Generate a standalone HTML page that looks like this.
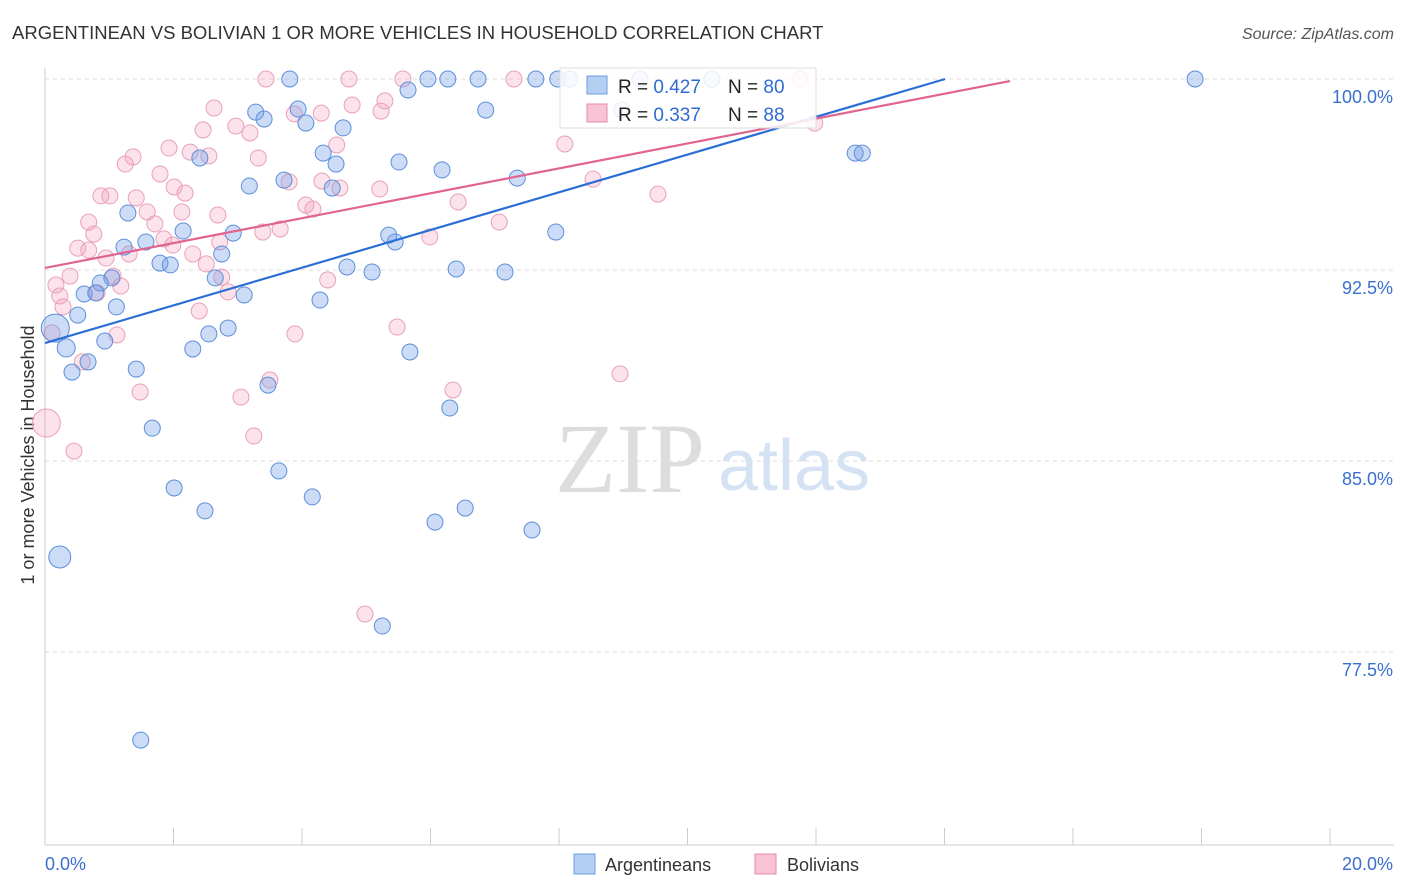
<!DOCTYPE html>
<html><head><meta charset="utf-8"><style>
body{margin:0;background:#fff;font-family:"Liberation Sans",sans-serif;}
svg{display:block}
</style></head><body>
<svg id="c" width="1406" height="892">
<text x="12" y="39" font-size="18.5" fill="#333">ARGENTINEAN VS BOLIVIAN 1 OR MORE VEHICLES IN HOUSEHOLD CORRELATION CHART</text>
<text x="1394" y="39" font-size="16" fill="#555" font-style="italic" text-anchor="end">Source: ZipAtlas.com</text>
<text x="555" y="492" font-size="100" fill="#ddd" font-family="Liberation Serif,serif">ZIP</text>
<text x="718" y="490" font-size="72" fill="#d4e2f4">atlas</text>
<text transform="translate(34,455) rotate(-90)" font-size="18" fill="#333" text-anchor="middle">1 or more Vehicles in Household</text>
<g id="grid"></g><g id="marks"></g><g id="lines"></g>
<g>
<rect x="560" y="68" width="256" height="60" fill="#fff" fill-opacity="0.85" stroke="#ddd"/>
<rect x="587" y="76" width="20" height="18" fill="#b5cff3" stroke="#6b9be0"/>
<rect x="587" y="104" width="20" height="18" fill="#f8c3d3" stroke="#e88aaa"/>
<text x="618" y="93" font-size="19" fill="#222">R = <tspan fill="#2f6bd1">0.427</tspan><tspan x="728">N = </tspan><tspan fill="#2f6bd1">80</tspan></text>
<text x="618" y="121" font-size="19" fill="#222">R = <tspan fill="#2f6bd1">0.337</tspan><tspan x="728">N = </tspan><tspan fill="#2f6bd1">88</tspan></text>
</g>
<g>
<rect x="574" y="854" width="21" height="20" fill="#b5cff3" stroke="#6b9be0"/>
<text x="605" y="871" font-size="18" fill="#333">Argentineans</text>
<rect x="755" y="854" width="21" height="20" fill="#f8c3d3" stroke="#e88aaa"/>
<text x="787" y="871" font-size="18" fill="#333">Bolivians</text>
</g>
</svg>
<script>
const yTicks=[100,92.5,85,77.5];
const yTickLabels=["100.0%","92.5%","85.0%","77.5%"];
const xTickLabels=["0.0%","20.0%"];
const blueX=[17.90,3.81,5.96,6.27,6.74,7.64,7.98,8.17,9.26,10.38,8.98,6.86,5.65,3.94,3.28,3.41,4.06,4.64,4.33,4.53,5.51,6.18,7.35,3.72,3.18,4.47,12.61,12.72,2.41,1.29,7.95,2.93,2.15,5.35,5.45,1.23,1.57,1.79,1.95,2.75,4.70,5.09,6.40,7.16,2.65,0.86,1.04,0.61,0.79,3.10,4.28,1.11,0.51,0.16,2.85,2.55,0.93,0.33,2.30,5.68,0.67,0.42,1.42,3.47,6.30,1.67,3.64,2.01,4.16,2.49,6.54,6.07,7.58,0.23,5.25,1.49];
const blueY=[100,100,100,100,100,100,100,100,100,100,98.78,98.78,99.57,98.82,98.70,98.43,98.27,98.08,97.09,96.66,96.74,96.43,96.11,96.03,95.80,95.72,97.09,97.09,96.90,94.74,93.99,93.95,94.03,93.87,93.60,93.40,93.60,92.77,92.70,93.13,92.62,92.42,92.54,92.42,92.19,91.99,92.19,91.56,91.60,91.52,91.32,91.05,90.73,90.22,90.22,89.99,89.71,89.44,89.40,89.28,88.89,88.49,88.61,87.98,87.08,86.29,84.61,83.94,83.59,83.04,83.15,82.60,82.29,81.23,78.52,74.04];
const blueR=[8,8,8,8,8,8,8,8,8,8,8,8,8,8,8,8,8,8,8,8,8,8,8,8,8,8,8,8,8,8,8,8,8,8,8,8,8,8,8,8,8,8,8,8,8,8,8,8,8,8,8,8,8,14,8,8,8,9,8,8,8,8,8,8,8,8,8,8,8,8,8,8,8,11,8,8];
const pinkX=[3.44,4.73,5.57,7.30,11.75,11.98,2.63,3.88,4.30,4.78,5.29,5.23,2.46,2.97,3.19,8.09,1.93,2.55,2.26,1.37,1.25,3.32,4.54,1.79,2.01,2.18,3.80,4.31,0.87,1.01,1.42,9.54,8.53,5.21,4.59,4.06,4.17,1.59,2.13,2.69,6.43,7.07,0.68,0.76,1.71,3.39,3.66,5.99,0.51,0.68,1.85,1.99,1.31,2.72,0.95,2.30,2.51,1.06,2.75,0.39,4.40,0.17,1.18,2.85,0.81,0.23,0.28,1.12,3.89,5.48,2.40,0.11,0.58,8.95,3.50,6.35,1.48,3.05,3.25,0.45,4.98,0.02];
const pinkY=[100,100,100,100,100,98.27,98.86,98.63,98.66,98.98,99.14,98.74,98.00,98.15,97.88,97.45,97.29,96.98,97.13,96.94,96.66,96.90,97.41,96.27,95.76,95.52,95.96,95.99,95.41,95.41,95.33,95.48,96.07,95.68,95.72,95.05,94.89,94.78,94.78,94.66,95.17,94.38,94.38,93.91,94.31,93.99,94.11,93.80,93.36,93.28,93.72,93.48,93.13,93.60,92.97,93.13,92.74,92.26,92.22,92.26,92.11,91.91,91.87,91.64,91.60,91.48,91.05,89.95,89.99,90.26,90.89,90.03,88.89,88.42,88.18,87.79,87.71,87.51,85.98,85.39,78.99,86.49];
const blueLine=[[0,89.63],[14.01,100]];
const pinkLine=[[0,92.58],[15.02,99.92]];
const NS="http://www.w3.org/2000/svg";
const X0=45,X1=1330,Y100=79,PXPER=191/7.5;
function sx(v){return X0+(v/20)*(X1-X0);}
function sy(v){return Y100+(100-v)*PXPER;}
function mk(t,a,p){const e=document.createElementNS(NS,t);for(const k in a)e.setAttribute(k,a[k]);p.appendChild(e);return e;}
const grid=document.getElementById('grid');
yTicks.forEach((t,i)=>{
 const l=mk('line',{x1:45,x2:1394,y1:sy(t),y2:sy(t),stroke:'#ddd','stroke-dasharray':'4,4'},grid);
 
 
 const tx=mk('text',{x:1393,y:sy(t)+24,'font-size':18,fill:'#3a6fd0','text-anchor':'end'},grid);
 tx.textContent=yTickLabels[i];
 
 
});
const ax=mk('line',{x1:45,x2:45,y1:68,y2:845,stroke:'#ccc'},grid);


const bx=mk('line',{x1:45,x2:1394,y1:845,y2:845,stroke:'#ccc'},grid);


for(let i=0;i<=10;i++){
 const tk=mk('line',{x1:sx(i*2),x2:sx(i*2),y1:828,y2:845,stroke:'#ccc'},grid);
 
 
}
xTickLabels.forEach((s,i)=>{
 const tx=mk('text',{x:i?1393:45,y:870,'font-size':18,fill:'#3a6fd0','text-anchor':i?'end':'start'},grid);
 tx.textContent=s;
 
 
});
const marks=document.getElementById('marks');
pinkX.forEach((x,i)=>{
 const c=mk('circle',{cx:sx(x),cy:sy(pinkY[i]),r:i==pinkX.length-1?14:8,fill:'rgba(242,160,188,0.3)',stroke:'#eaa0b8','stroke-width':1},marks);
 
 
});
blueX.forEach((x,i)=>{
 const c=mk('circle',{cx:sx(x),cy:sy(blueY[i]),r:blueR[i]||8,fill:'rgba(110,155,230,0.35)',stroke:'#5d8fdb','stroke-width':1},marks);
 
 
});
const lines=document.getElementById('lines');
const lb=mk('line',{x1:sx(blueLine[0][0]),y1:sy(blueLine[0][1]),x2:sx(blueLine[1][0]),y2:sy(blueLine[1][1]),stroke:'#2b6fd6','stroke-width':2.2},lines);


const lp=mk('line',{x1:sx(pinkLine[0][0]),y1:sy(pinkLine[0][1]),x2:sx(pinkLine[1][0]),y2:sy(pinkLine[1][1]),stroke:'#e0648f','stroke-width':2.2},lines);


</script>
</body></html>
